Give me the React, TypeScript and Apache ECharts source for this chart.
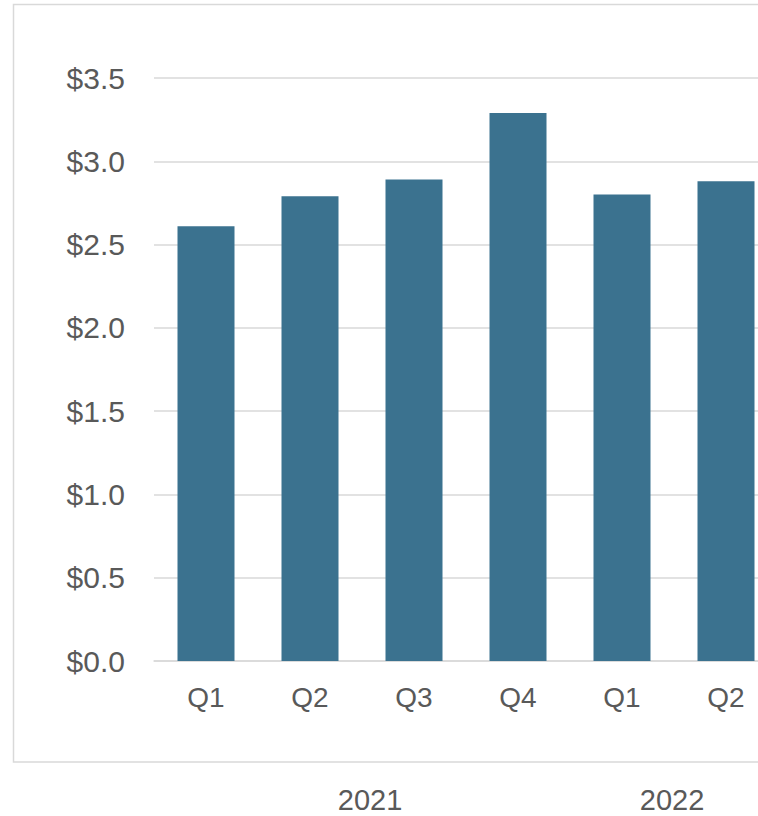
import React, { useEffect, useRef } from "react";
import * as echarts from "echarts";

const quarters = ["Q1", "Q2", "Q3", "Q4", "Q1", "Q2"];
const values = [2.61, 2.79, 2.89, 3.29, 2.8, 2.88];
const years = ["2021", "2022"];
const yearSpans = [4, 2];
const yTicks = { min: 0, max: 3.5, interval: 0.5 };

const FONT = "'Liberation Sans', Arial, sans-serif";
const TEXT = "#595959";
const GRID_COLOR = "#d9d9d9";
const BAR_COLOR = "#3b728f";

export default function App() {
  const ref = useRef<HTMLDivElement>(null);
  useEffect(() => {
    if (!ref.current) return;
    const chart = echarts.init(ref.current, undefined, { renderer: "svg" });
    const gridLeft = 154;
    const gridWidth = 624;
    const band = gridWidth / quarters.length;
    let start = 0;
    const yearTexts = years.map((y, i) => {
      const cx = gridLeft + band * (start + yearSpans[i] / 2) + (i === 0 ? 8 : -2);
      start += yearSpans[i];
      return {
        type: "text",
        x: cx,
        y: 800,
        style: {
          text: y,
          font: `29px ${FONT}`,
          fill: TEXT,
          align: "center",
          verticalAlign: "middle",
        },
      };
    });
    chart.setOption({
      animation: false,
      grid: { left: gridLeft, width: gridWidth, top: 78, height: 583 },
      xAxis: {
        type: "category",
        data: quarters,
        axisLine: { show: true, lineStyle: { color: GRID_COLOR, width: 1.5 } },
        axisTick: { show: false },
        axisLabel: {
          color: TEXT,
          fontSize: 28,
          fontFamily: FONT,
          margin: 22,
        },
      },
      yAxis: {
        type: "value",
        min: yTicks.min,
        max: yTicks.max,
        interval: yTicks.interval,
        axisLine: { show: false },
        axisTick: { show: false },
        splitLine: { lineStyle: { color: GRID_COLOR, width: 1.5 } },
        axisLabel: {
          color: TEXT,
          fontSize: 30,
          fontFamily: FONT,
          margin: 29,
          formatter: (v: number) => "$" + v.toFixed(1),
        },
      },
      series: [
        {
          type: "bar",
          data: values,
          barWidth: 57,
          itemStyle: { color: BAR_COLOR },
        },
      ],
      graphic: [
        {
          type: "rect",
          z: -10,
          shape: { x: 13.5, y: 4.5, width: 900, height: 757.5 },
          style: { fill: "none", stroke: GRID_COLOR, lineWidth: 1.5 },
        },
        ...yearTexts,
      ],
    });
    return () => chart.dispose();
  }, []);
  return (
    <div
      style={{
        position: "absolute",
        left: 0,
        top: 0,
        width: 758,
        height: 816,
        overflow: "hidden",
        background: "#fff",
      }}
    >
      <div ref={ref} style={{ width: 800, height: 816 }} />
    </div>
  );
}
